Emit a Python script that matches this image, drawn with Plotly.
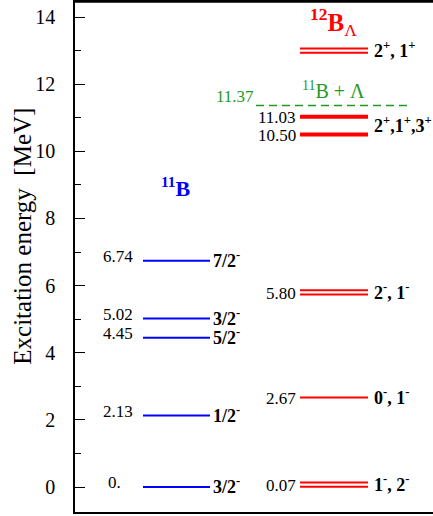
import plotly.graph_objects as go

# ---- data ----
b11_energies = [0.0, 2.13, 4.45, 5.02, 6.74]
b11_value_labels = ["0.", "2.13", "4.45", "5.02", "6.74"]
b11_spins = ["3/2<sup>-</sup>", "1/2<sup>-</sup>", "5/2<sup>-</sup>", "3/2<sup>-</sup>", "7/2<sup>-</sup>"]

b12_energies = [0.07, 2.67, 5.80, 10.50, 11.03, 13.0]
b12_doublet = [True, False, True, False, False, True]
b12_value_labels = ["0.07", "2.67", "5.80", "10.50", "11.03", ""]

b12_spin_energies = [0.07, 2.67, 5.80, 10.77, 13.0]
b12_spins = ["1<sup>-</sup>, 2<sup>-</sup>", "0<sup>-</sup>, 1<sup>-</sup>", "2<sup>-</sup>, 1<sup>-</sup>",
             "2<sup>+</sup>,1<sup>+</sup>,3<sup>+</sup>", "2<sup>+</sup>, 1<sup>+</sup>"]

threshold_energy = 11.37
threshold_label = "11.37"

y_ticks = [0, 2, 4, 6, 8, 10, 12, 14]

# ---- style / layout constants ----
BLUE = "#0000ff"
RED = "#ff0000"
GREEN = "#1f9a1f"
SERIF = "Liberation Serif"

B11_X = (68, 135)
B12_X = (225, 293)
THR_X = (181, 335)
SPLIT = 0.065

fig = go.Figure()

# 11B levels
for e in b11_energies:
    fig.add_trace(go.Scatter(x=list(B11_X), y=[e, e], mode="lines",
                             line=dict(color=BLUE, width=2), hoverinfo="skip", showlegend=False))

# 12B_Lambda levels
for e, dbl in zip(b12_energies, b12_doublet):
    if dbl:
        for d in (-SPLIT, SPLIT):
            fig.add_trace(go.Scatter(x=list(B12_X), y=[e + d, e + d], mode="lines",
                                     line=dict(color=RED, width=2), hoverinfo="skip", showlegend=False))
    else:
        w = 2 if e < 10 else 4
        fig.add_trace(go.Scatter(x=list(B12_X), y=[e, e], mode="lines",
                                 line=dict(color=RED, width=w), hoverinfo="skip", showlegend=False))

# threshold
fig.add_trace(go.Scatter(x=list(THR_X), y=[threshold_energy, threshold_energy], mode="lines",
                         line=dict(color=GREEN, width=1.5, dash="8px,5px"), hoverinfo="skip", showlegend=False))

ann = []
# 11B value labels
for e, lab in zip(b11_energies, b11_value_labels):
    xx = B11_X[0] - 20 if lab == "0." else B11_X[0] - 8
    ann.append(dict(x=xx, y=e + 0.12, text=lab, xanchor="right", yanchor="middle",
                    font=dict(size=17, color="black", family=SERIF)))
for e, lab in zip(b11_energies, b11_spins):
    ann.append(dict(x=B11_X[1] + 1, y=e + 0.03, text="<b>" + lab + "</b>", xanchor="left", yanchor="middle",
                    font=dict(size=18, color="black", family=SERIF)))
# 12B value labels
for e, lab in zip(b12_energies, b12_value_labels):
    if lab:
        ann.append(dict(x=B12_X[0] - 2, y=e - 0.02, text=lab, xanchor="right", yanchor="middle",
                        font=dict(size=17, color="black", family=SERIF)))
for e, lab in zip(b12_spin_energies, b12_spins):
    ann.append(dict(x=B12_X[1] + 4, y=e + 0.03, text="<b>" + lab + "</b>", xanchor="left", yanchor="middle",
                    font=dict(size=18, color="black", family=SERIF)))
# threshold labels
ann.append(dict(x=THR_X[0], y=threshold_energy + 0.25, text=threshold_label, xanchor="right", yanchor="middle",
                font=dict(size=17, color=GREEN, family=SERIF)))
ann.append(dict(x=258, y=threshold_energy + 0.45, text="<sup>11</sup>B + Λ", xanchor="center", yanchor="middle",
                font=dict(size=20, color=GREEN, family=SERIF)))
# nucleus titles
ann.append(dict(x=101, y=8.95, text="<b><sup>11</sup>B</b>", xanchor="center", yanchor="middle",
                font=dict(size=22, color=BLUE, family=SERIF)))
ann.append(dict(x=258, y=13.85, text="<b><sup>12</sup>B</b><sub>Λ</sub>", xanchor="center", yanchor="middle",
                font=dict(size=25, color=RED, family=SERIF)))
for a in ann:
    a.update(xref="x", yref="y", showarrow=False)

# axis title
ann.append(dict(x=-0.145, y=0.54, xref="paper", yref="paper", text="Excitation energy  [MeV]",
                textangle=-90, showarrow=False, xanchor="center", yanchor="middle",
                font=dict(size=25, color="black", family=SERIF)))

fig.update_layout(
    width=433, height=516,
    margin=dict(l=75, r=0, t=2, b=4),
    paper_bgcolor="white", plot_bgcolor="white",
    font=dict(family=SERIF),
    annotations=ann,
    shapes=[dict(type="line", xref="paper", yref="paper", x0=0, x1=1, y0=1, y1=1,
                 line=dict(color="black", width=1.5))],
    xaxis=dict(range=[0, 358], showline=True, mirror=True, linecolor="black", linewidth=1.5,
               showgrid=False, zeroline=False, showticklabels=False, ticks=""),
    yaxis=dict(range=[-0.745, 14.45], tickvals=y_ticks, ticktext=[str(v) for v in y_ticks],
               ticks="inside", ticklen=10, tickcolor="black", tickwidth=1,
               minor=dict(dtick=1, ticks="inside", ticklen=6, tickcolor="black", tickwidth=1),
               showline=True, linecolor="black", linewidth=1.5, showgrid=False, zeroline=False,
               ticklabelstandoff=14,
               tickfont=dict(size=20, color="black", family=SERIF)),
)

fig.write_html("out.html", config={"displayModeBar": False},
               post_script="document.body.style.margin='0';")
